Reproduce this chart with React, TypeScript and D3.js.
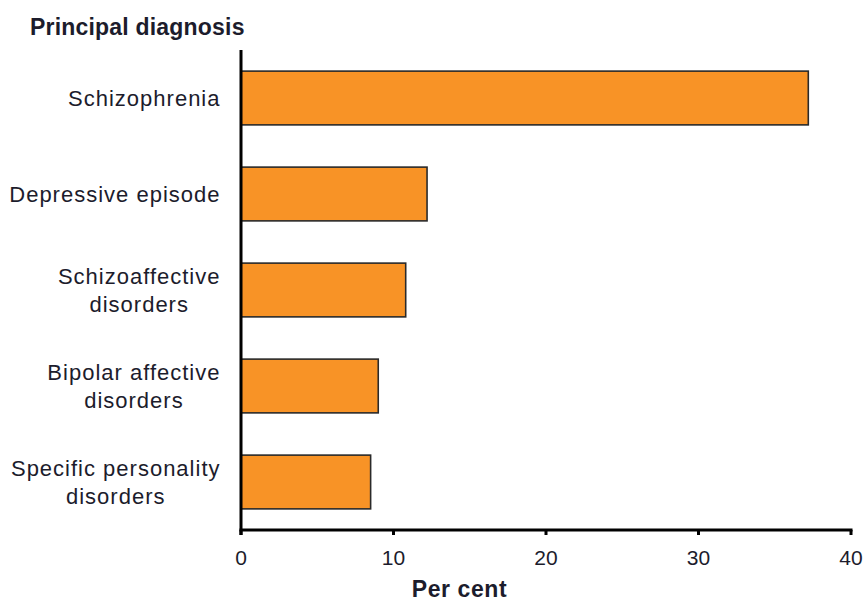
import React from "react";
import * as d3 from "d3";

const categories: string[][] = [
  ["Schizophrenia"],
  ["Depressive episode"],
  ["Schizoaffective", "disorders"],
  ["Bipolar affective", "disorders"],
  ["Specific personality", "disorders"],
];
const values: number[] = [37.2, 12.2, 10.8, 9.0, 8.5];
const xTicks: number[] = [0, 10, 20, 30, 40];
const title = "Principal diagnosis";
const xTitle = "Per cent";

const W = 867;
const H = 601;
const font = "'Liberation Sans', Arial, sans-serif";
const textColor = "#1c1c2c";
const labelSize = 22;
const labelSpacing = 1;

let ctx: CanvasRenderingContext2D | null = null;
function measure(s: string): number {
  if (!ctx) {
    const c = document.createElement("canvas");
    ctx = c.getContext("2d");
  }
  if (!ctx) return s.length * labelSize * 0.5;
  ctx.font = `${labelSize}px 'Liberation Sans', Arial, sans-serif`;
  return ctx.measureText(s).width + labelSpacing * s.length;
}

export default function App() {
  const x = d3.scaleLinear().domain([0, 40]).range([241, 851]);
  const keys = categories.map((c) => c.join(" "));
  const y = d3.scaleBand<string>().domain(keys).range([50, 530]).paddingInner(0.44).paddingOuter(0.22);
  const axisY = 530;
  const lineH = 27.5;
  const labelRight = 220;

  return (
    <div style={{ position: "absolute", top: 0, left: 0 }}>
      <svg width={W} height={H} style={{ display: "block", background: "#fff" }}>
        <text x={30} y={27} fontFamily={font} fontWeight="bold" fontSize={23} letterSpacing={0.2} fill={textColor} dominantBaseline="central">
          {title}
        </text>
        {values.map((v, i) => (
          <rect
            key={i}
            x={x(0)}
            y={y(keys[i])!}
            width={x(v) - x(0)}
            height={y.bandwidth()}
            fill="#F89326"
            stroke="#2a2a2a"
            strokeWidth={1.6}
          />
        ))}
        {categories.map((lines, i) => {
          const cy = y(keys[i])! + y.bandwidth() / 2;
          const start = cy - ((lines.length - 1) * lineH) / 2;
          const maxW = Math.max(...lines.map(measure));
          const cx = labelRight - maxW / 2 + labelSpacing / 2;
          return (
            <text key={i} fontFamily={font} fontSize={labelSize} letterSpacing={labelSpacing} fill={textColor} textAnchor="middle" dominantBaseline="central">
              {lines.map((l, j) => (
                <tspan key={j} x={cx} y={start + j * lineH}>
                  {l}
                </tspan>
              ))}
            </text>
          );
        })}
        <line x1={x(0)} x2={x(0)} y1={50} y2={axisY + 5} stroke="#000" strokeWidth={3} />
        <line x1={x(0) - 1.5} x2={x(40) + 1.5} y1={axisY} y2={axisY} stroke="#000" strokeWidth={3} />
        {xTicks.map((t) => (
          <g key={t}>
            <line x1={x(t)} x2={x(t)} y1={axisY} y2={axisY + 5} stroke="#000" strokeWidth={3} />
            <text x={x(t)} y={557} fontFamily={font} fontSize={21} fill={textColor} textAnchor="middle" dominantBaseline="central">
              {t}
            </text>
          </g>
        ))}
        <text x={459.5} y={589} fontFamily={font} fontWeight="bold" fontSize={23} letterSpacing={0.6} fill={textColor} textAnchor="middle" dominantBaseline="central">
          {xTitle}
        </text>
      </svg>
    </div>
  );
}
